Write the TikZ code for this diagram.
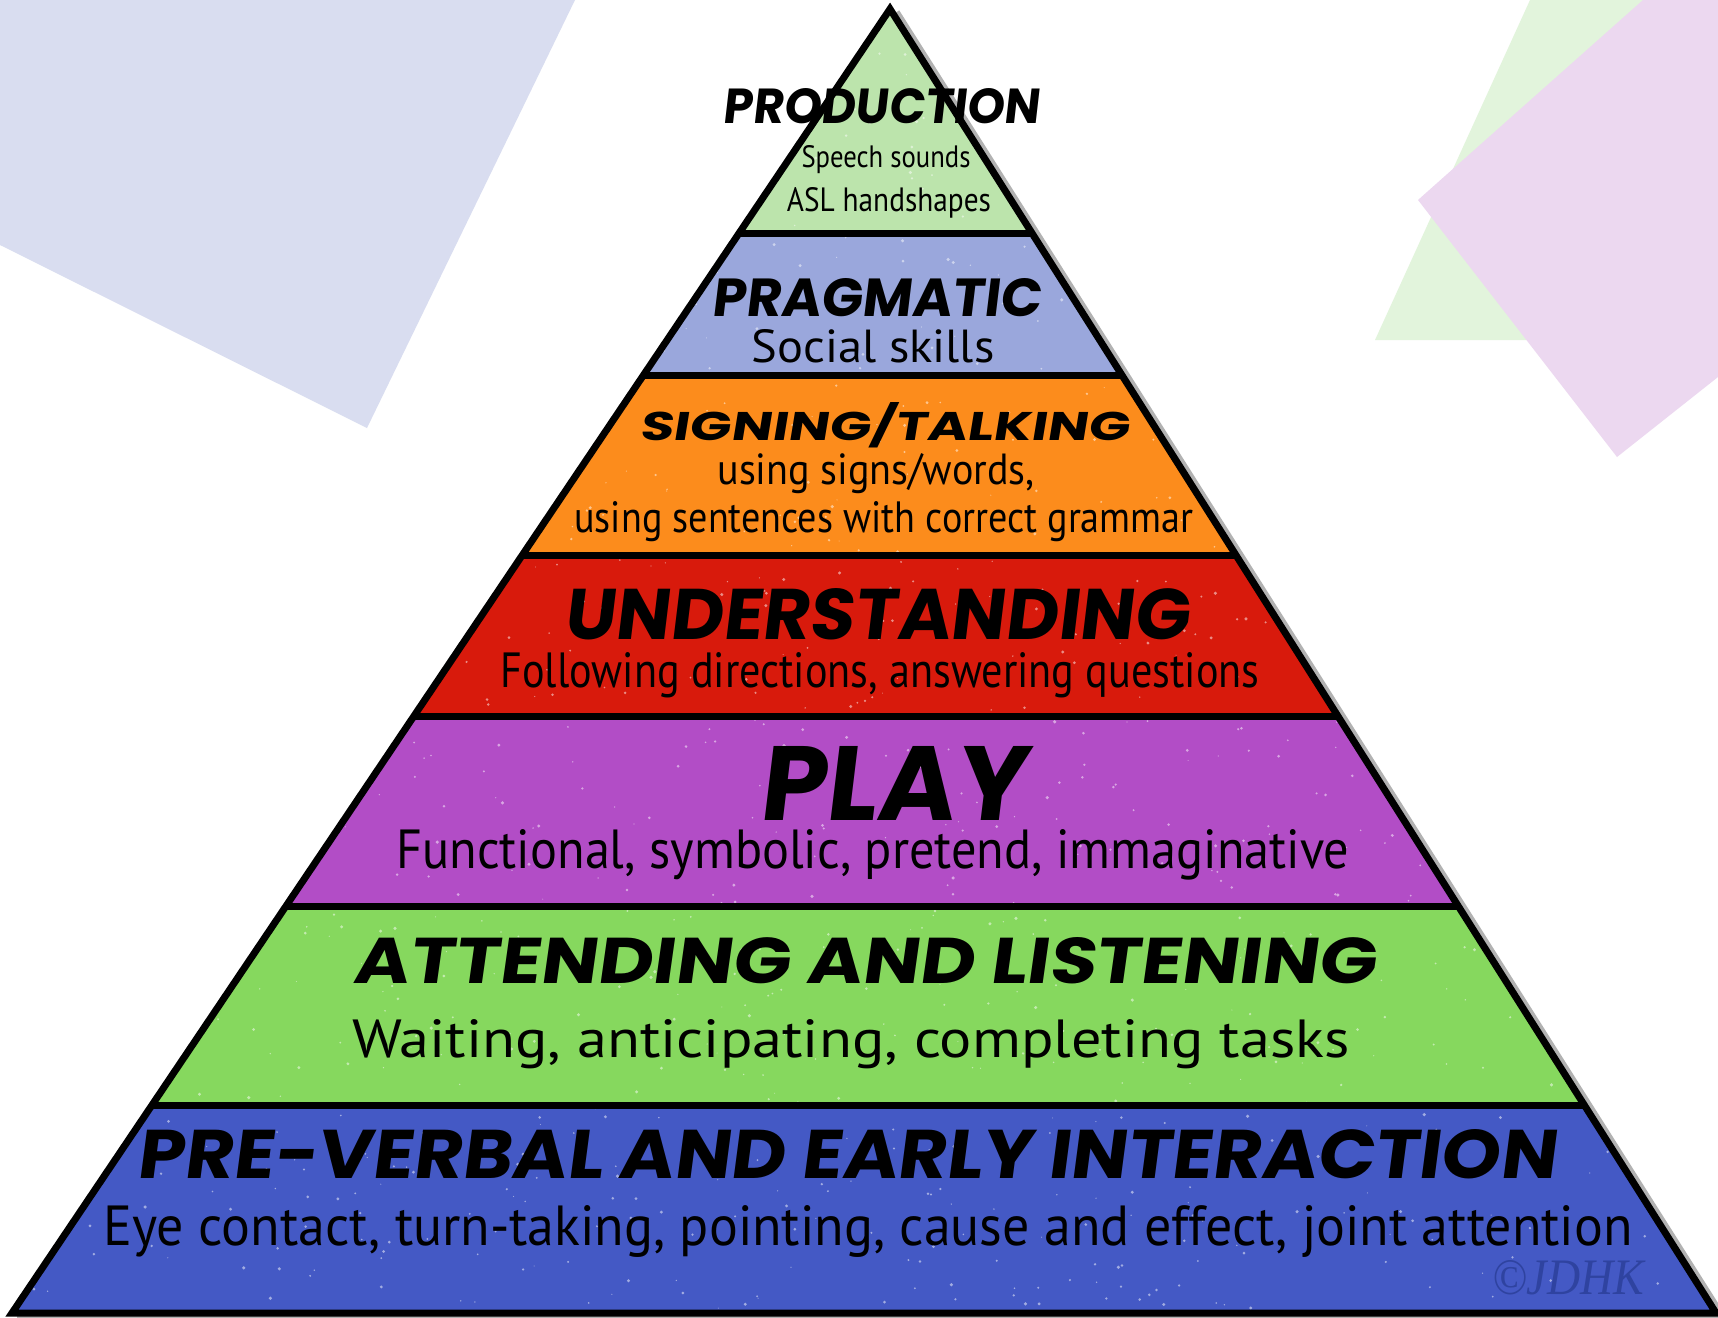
\documentclass[tikz,border=0pt]{standalone}
\usepackage{fontspec}
\usepackage{graphicx}
\usetikzlibrary{calc}
\newfontfamily\headf{Poppins}[FakeSlant=0.12]
\newfontfamily\bodyf{PT Sans}
\newfontfamily\sigf{Liberation Serif}
\newcommand{\fitbox}[3]{\resizebox{#1pt}{#2pt}{#3}}
\definecolor{lavender}{HTML}{D9DDF0}
\definecolor{palegreen}{HTML}{E2F4DC}
\definecolor{palepink}{HTML}{ECD8F0}
\definecolor{cprod}{HTML}{BCE4AC}
\definecolor{cprag}{HTML}{9AA7DC}
\definecolor{csign}{HTML}{FC8C1C}
\definecolor{cund}{HTML}{D81A0C}
\definecolor{cplay}{HTML}{B24DC6}
\definecolor{catt}{HTML}{86D85E}
\definecolor{cpre}{HTML}{4459C5}
\definecolor{sigblue}{HTML}{2F43A0}
\begin{document}
\begin{tikzpicture}[x=1pt,y=-1pt,
  sep/.style={line width=7pt, black},
  head/.style={anchor=base, inner sep=0pt, text=black},
  sub/.style={anchor=base, inner sep=0pt, text=black},
  speck/.style={white, opacity=0.5}]
\useasboundingbox (0,0) rectangle (1718,1317);
\fill[white] (0,0) rectangle (1718,1317);
% background paper shapes
\fill[lavender] (0,0) -- (575,0) -- (367,428) -- (0,245) -- cycle;
\fill[palegreen] (1530,0) -- (1718,0) -- (1718,340) -- (1375,340) -- cycle;
\fill[palepink] (1418,200) -- (1643,0) -- (1718,0) -- (1718,377) -- (1617,457) -- cycle;
% pyramid geometry
\coordinate (A) at (890,9);
\coordinate (BL) at (12,1313);
\coordinate (BR) at (1716,1313);
\coordinate (L1) at ($(A)!0.17178!(BL)$); \coordinate (R1) at ($(A)!0.17178!(BR)$);
\coordinate (L2) at ($(A)!0.28144!(BL)$); \coordinate (R2) at ($(A)!0.28144!(BR)$);
\coordinate (L3) at ($(A)!0.41871!(BL)$); \coordinate (R3) at ($(A)!0.41871!(BR)$);
\coordinate (L4) at ($(A)!0.54218!(BL)$); \coordinate (R4) at ($(A)!0.54218!(BR)$);
\coordinate (L5) at ($(A)!0.68788!(BL)$); \coordinate (R5) at ($(A)!0.68788!(BR)$);
\coordinate (L6) at ($(A)!0.84049!(BL)$); \coordinate (R6) at ($(A)!0.84049!(BR)$);
% shadow
\draw[line width=10pt, black, opacity=0.3, line join=round]
  ([shift={(5,4)}]A) -- ([shift={(5,4)}]BR) -- ([shift={(5,4)}]BL);
% bands
\fill[cprod] (A) -- (R1) -- (L1) -- cycle;
\fill[cprag] (L1) -- (R1) -- (R2) -- (L2) -- cycle;
\fill[csign] (L2) -- (R2) -- (R3) -- (L3) -- cycle;
\fill[cund] (L3) -- (R3) -- (R4) -- (L4) -- cycle;
\fill[cplay] (L4) -- (R4) -- (R5) -- (L5) -- cycle;
\fill[catt] (L5) -- (R5) -- (R6) -- (L6) -- cycle;
\fill[cpre] (L6) -- (R6) -- (BR) -- (BL) -- cycle;
% speckle texture
\begin{scope}
\clip (A) -- (BR) -- (BL) -- cycle;
\pgfmathsetseed{7}
\foreach \i in {1,...,1400}{
  \pgfmathsetmacro\xx{12+1704*rnd}
  \pgfmathsetmacro\yy{9+1304*rnd}
  \pgfmathsetmacro\rr{0.5+1.3*rnd}
  \fill[speck] (\xx,\yy) circle[radius=\rr pt];
}
\end{scope}
% separators and outline
\draw[sep] (L1) -- (R1);
\draw[sep] (L2) -- (R2);
\draw[sep] (L3) -- (R3);
\draw[sep] (L4) -- (R4);
\draw[sep] (L5) -- (R5);
\draw[sep] (L6) -- (R6);
\draw[line width=7pt, line join=miter] (A) -- (BR) -- (BL) -- cycle;
% texts
\node[head] (tprod) at (881,123) {\fitbox{316}{35}{\headf\bfseries PRODUCTION}};
\node[sub] (tprod1) at (886,167) {\fitbox{169}{22}{\bodyf Speech sounds}};
\node[sub] (tprod2) at (889,211) {\fitbox{204}{24}{\bodyf ASL handshapes}};
\node[head] (tprag) at (876,316) {\fitbox{329}{38}{\headf\bfseries PRAGMATIC}};
\node[sub] (tprag1) at (873,362) {\fitbox{243}{33}{\bodyf Social skills}};
\node[head] (tsign) at (884,440) {\fitbox{490}{38}{\headf\bfseries SIGNING/TALKING}};
\node[sub] (tsign1) at (876,484) {\fitbox{317}{31}{\bodyf using signs/words,}};
\node[sub] (tsign2) at (884,532) {\fitbox{619}{31}{\bodyf using sentences with correct grammar}};
\node[head] (tund) at (876,639) {\fitbox{625}{51}{\headf\bfseries UNDERSTANDING}};
\node[sub] (tund1) at (880,687) {\fitbox{759}{35}{\bodyf Following directions, answering questions}};
\node[head] (tplay) at (892,820) {\fitbox{267}{74}{\headf\bfseries PLAY}};
\node[sub] (tplay1) at (873,868) {\fitbox{953}{39}{\bodyf Functional, symbolic, pretend, immaginative}};
\node[head] (tatt) at (864,983) {\fitbox{1022}{46}{\headf\bfseries ATTENDING AND LISTENING}};
\node[sub] (tatt1) at (851,1057) {\fitbox{997}{38}{\bodyf Waiting, anticipating, completing tasks}};
\node[head] (tpre) at (846,1178) {\fitbox{1419}{49}{\headf\bfseries PRE-VERBAL AND EARLY INTERACTION}};
\node[sub] (tpre1) at (868,1245) {\fitbox{1529}{40}{\bodyf Eye contact, turn-taking, pointing, cause and effect, joint attention}};
\node[sub, text=sigblue] (tsig) at (1568,1294) {\fitbox{152}{34}{\sigf\itshape ©JDHK}};
\end{tikzpicture}
\end{document}
